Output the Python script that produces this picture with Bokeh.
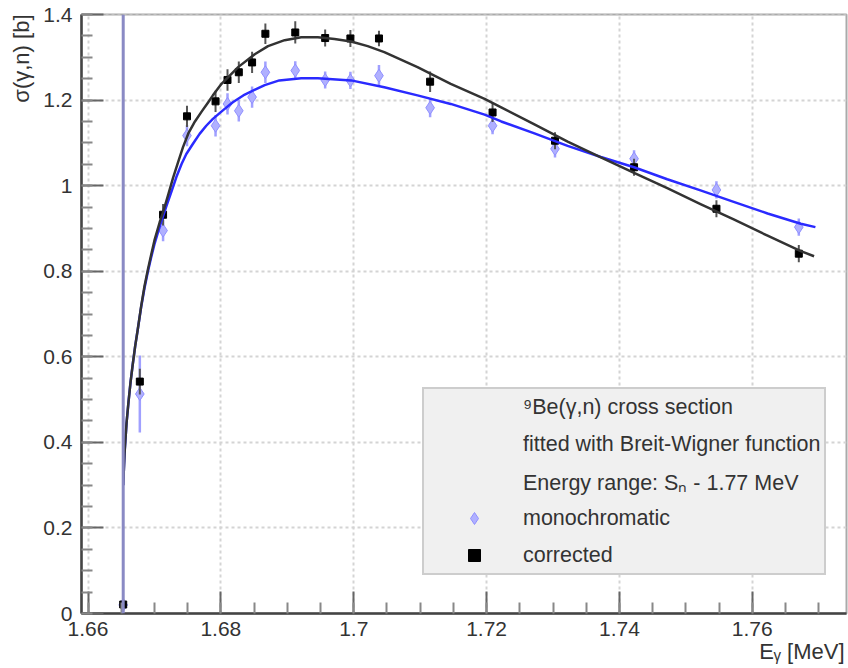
import math
from bokeh.plotting import figure
from bokeh.models import (Range1d, SingleIntervalTicker, CustomJSTickFormatter, Span,
                          Title, Legend, LegendItem)
from bokeh.embed import file_html
from bokeh.resources import INLINE

FONT = "Liberation Sans"

# ---- data ----
sn_threshold = 1.6653  # MeV, 9Be neutron separation energy (vertical line)

energies = [1.6653, 1.6678, 1.6713, 1.6749, 1.6792, 1.6810, 1.6827, 1.6847, 1.6867, 1.6912,
            1.6957, 1.6995, 1.7038, 1.7115, 1.7209, 1.7303, 1.7422, 1.7546, 1.7670]
energy_err = [0.0005] * len(energies)

mono = [0.02, 0.513, 0.895, 1.117, 1.140, 1.191, 1.175, 1.207, 1.265, 1.269,
        1.247, 1.246, 1.257, 1.182, 1.140, 1.086, 1.063, 0.990, 0.903]
mono_err = [0.01, 0.09, 0.025, 0.025, 0.025, 0.025, 0.025, 0.025, 0.025, 0.022,
            0.02, 0.02, 0.025, 0.022, 0.02, 0.02, 0.02, 0.02, 0.02]

corr = [0.021, 0.542, 0.932, 1.162, 1.197, 1.247, 1.265, 1.288, 1.355, 1.358,
        1.345, 1.344, 1.344, 1.243, 1.171, 1.105, 1.043, 0.946, 0.841]
corr_err = [0.01, 0.03, 0.025, 0.025, 0.025, 0.025, 0.025, 0.025, 0.024, 0.026,
            0.02, 0.02, 0.018, 0.024, 0.022, 0.02, 0.02, 0.02, 0.02]

# Breit-Wigner fit curves
fit_e_corr = [1.6653, 1.6655, 1.6658, 1.6661, 1.6664, 1.6667, 1.6671, 1.6675, 1.6680, 1.6685,
              1.6690, 1.6695, 1.6700, 1.6708, 1.6713, 1.6721, 1.6728, 1.6736, 1.6743, 1.6751,
              1.6761, 1.6771, 1.6781, 1.6788, 1.6801, 1.6826, 1.6851, 1.6871, 1.6896, 1.6921,
              1.6946, 1.6971, 1.6996, 1.7021, 1.7046, 1.7096, 1.7146, 1.7197, 1.7222, 1.7272,
              1.7322, 1.7372, 1.7422, 1.7472, 1.7522, 1.7572, 1.7623, 1.7673, 1.7693]
fit_corr = [0.300, 0.375, 0.445, 0.495, 0.540, 0.578, 0.625, 0.665, 0.718, 0.765,
            0.803, 0.838, 0.872, 0.915, 0.938, 0.980, 1.018, 1.057, 1.090, 1.122,
            1.150, 1.173, 1.195, 1.211, 1.238, 1.277, 1.307, 1.326, 1.340, 1.347,
            1.347, 1.343, 1.337, 1.326, 1.312, 1.277, 1.238, 1.203, 1.183, 1.143,
            1.103, 1.066, 1.030, 0.994, 0.957, 0.921, 0.883, 0.847, 0.835]

fit_e_mono = [1.6653, 1.6655, 1.6658, 1.6661, 1.6664, 1.6667, 1.6671, 1.6675, 1.6680, 1.6685,
              1.6690, 1.6695, 1.6700, 1.6708, 1.6718, 1.6726, 1.6733, 1.6741, 1.6748, 1.6758,
              1.6768, 1.6778, 1.6788, 1.6803, 1.6818, 1.6836, 1.6866, 1.6888, 1.6921, 1.6946,
              1.6996, 1.7046, 1.7096, 1.7146, 1.7197, 1.7222, 1.7272, 1.7322, 1.7372, 1.7422,
              1.7472, 1.7522, 1.7572, 1.7623, 1.7673, 1.7695]
fit_mono = [0.300, 0.375, 0.445, 0.495, 0.540, 0.578, 0.625, 0.665, 0.716, 0.760,
            0.798, 0.832, 0.863, 0.905, 0.952, 0.988, 1.020, 1.051, 1.074, 1.098,
            1.121, 1.140, 1.156, 1.176, 1.195, 1.213, 1.235, 1.246, 1.251, 1.251,
            1.246, 1.230, 1.211, 1.191, 1.166, 1.150, 1.122, 1.093, 1.067, 1.043,
            1.015, 0.989, 0.962, 0.935, 0.911, 0.903]

legend_labels = ["\u2079Be(\u03b3,n) cross section", "fitted with Breit-Wigner function",
                 "Energy range: S\u2099 - 1.77 MeV", "monochromatic", "corrected"]
x_title = "E\u1d67 [MeV]"
y_title = "\u03c3(\u03b3,n) [b]"

x_start, x_end = 1.65902, 1.77418
y_start, y_end = 0.0, 1.40001

# ---- figure ----
p = figure(width=848, height=668, output_backend="svg", toolbar_location=None,
           x_range=Range1d(x_start, x_end), y_range=Range1d(y_start, y_end),
           min_border_left=80, min_border_right=2, min_border_top=14, min_border_bottom=55)
p.background_fill_color = "white"
p.border_fill_color = "white"
p.outline_line_color = "#aaaaaa"
p.outline_line_width = 2

fmt = CustomJSTickFormatter(code="return Number(tick.toFixed(3)).toString();")
xt = SingleIntervalTicker(interval=0.02, num_minor_ticks=4)
yt = SingleIntervalTicker(interval=0.2, num_minor_ticks=4)
p.xaxis.ticker = xt
p.yaxis.ticker = yt
p.xgrid.ticker = xt
p.ygrid.ticker = yt
for ax in (p.xaxis, p.yaxis):
    ax.formatter = fmt
    ax.axis_line_color = "#444444"
    ax.axis_line_width = 2.5
    ax.major_tick_line_color = "#666666"
    ax.minor_tick_line_color = "#888888"
    ax.major_tick_line_width = 2
    ax.minor_tick_line_width = 2
    ax.major_tick_in = 22
    ax.major_tick_out = 0
    ax.minor_tick_in = 11
    ax.minor_tick_out = 0
    ax.major_label_text_font = FONT
    ax.major_label_text_font_size = "21px"
    ax.major_label_text_color = "#333333"
p.xaxis.major_label_standoff = 8
p.yaxis.major_label_standoff = 9

for g in (p.xgrid, p.ygrid):
    g.grid_line_color = "#d4d4d4"
    g.grid_line_width = 2
    g.grid_line_dash = "3 3"

# threshold line
p.add_layout(Span(location=sn_threshold, dimension="height", line_color="#8a8ac4",
                  line_width=3))

# monochromatic data
mono_lo = [v - e for v, e in zip(mono, mono_err)]
mono_hi = [v + e for v, e in zip(mono, mono_err)]
e_lo = [v - e for v, e in zip(energies, energy_err)]
e_hi = [v + e for v, e in zip(energies, energy_err)]
p.segment(x0=energies, y0=mono_lo, x1=energies, y1=mono_hi, line_color="#a0a0ff", line_width=2.5)
p.segment(x0=e_lo, y0=mono, x1=e_hi, y1=mono, line_color="#a0a0ff", line_width=2.5)
r_mono = p.scatter(x=energies, y=mono, marker="diamond", size=13, fill_color="#b0b0ff",
                   line_color="#9090ff", line_width=1)

# corrected data
corr_lo = [v - e for v, e in zip(corr, corr_err)]
corr_hi = [v + e for v, e in zip(corr, corr_err)]
p.segment(x0=energies, y0=corr_lo, x1=energies, y1=corr_hi, line_color="#555555", line_width=2)
p.segment(x0=e_lo, y0=corr, x1=e_hi, y1=corr, line_color="#555555", line_width=2)
r_corr = p.scatter(x=energies, y=corr, marker="square", size=7, fill_color="black",
                   line_color="black")

# fit curves
p.line(fit_e_mono, fit_mono, line_color="#2a2aff", line_width=2.5, line_join="round")
p.line(fit_e_corr, fit_corr, line_color="#333333", line_width=2.5, line_join="round")

# legend
r_blank = p.scatter(x=[], y=[], marker="circle", size=1, fill_alpha=0, line_alpha=0)
items = [LegendItem(label=legend_labels[0], renderers=[r_blank]),
         LegendItem(label=legend_labels[1], renderers=[r_blank]),
         LegendItem(label=legend_labels[2], renderers=[r_blank]),
         LegendItem(label=legend_labels[3], renderers=[r_mono]),
         LegendItem(label=legend_labels[4], renderers=[r_corr])]
legend = Legend(items=items, location=(341, 38), margin=0, padding=3,
                glyph_width=94, glyph_height=30, label_height=30, spacing=7,
                label_standoff=2, label_text_font=FONT, label_text_font_size="21.5px",
                label_text_color="#333333", border_line_color="#aaaaaa", border_line_width=2,
                background_fill_color="#f0f0f0", background_fill_alpha=1.0)
p.add_layout(legend)

# axis titles (as side titles so they sit outside the frame)
p.add_layout(Title(text=y_title, align="right", offset=0, standoff=13,
                   text_font=FONT, text_font_size="22px", text_font_style="normal",
                   text_color="#333333"), "left")
p.add_layout(Title(text=x_title, align="right", offset=2, standoff=-4,
                   text_font=FONT, text_font_size="22px", text_font_style="normal",
                   text_color="#333333"), "below")

open("out.html", "w").write(file_html(p, INLINE))
